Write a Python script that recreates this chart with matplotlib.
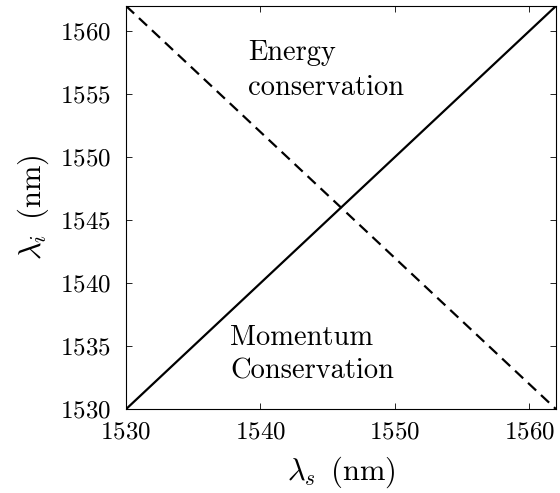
import matplotlib
matplotlib.use("Agg")
from matplotlib import pyplot as plt

# signal / idler wavelengths (nm)
lambda_s = [1530, 1546, 1562]
momentum_i = [1530, 1546, 1562]
energy_i = [1562, 1546, 1530]

x_ticks = [1530, 1540, 1550, 1560]
y_ticks = [1530, 1535, 1540, 1545, 1550, 1555, 1560]

plt.rcParams['font.family'] = 'serif'
plt.rcParams['font.serif'] = ['cmr10']
plt.rcParams['mathtext.fontset'] = 'cm'
plt.rcParams['axes.formatter.use_mathtext'] = True

fig = plt.figure(figsize=(5.6, 4.93), dpi=100)
ax = fig.add_axes([0.225, 0.170, 0.768, 0.818])

ax.plot(lambda_s, momentum_i, color='black', lw=1.6)
ax.plot(lambda_s, energy_i, color='black', lw=1.6, dashes=(5, 3))

ax.set_xlim(1530, 1562)
ax.set_ylim(1530, 1562)
ax.set_xticks(x_ticks)
ax.set_yticks(y_ticks)
ax.tick_params(direction='in', top=True, right=True, labelsize=18, length=4, width=0.6)
ax.tick_params(axis='x', pad=9)
ax.tick_params(axis='y', pad=11)
for s in ax.spines.values():
    s.set_linewidth(0.8)

ax.set_xlabel(r'$\lambda_s\ \,$(nm)', fontsize=22, labelpad=8)
ax.set_ylabel(r'$\lambda_i\ \,$(nm)', fontsize=22, labelpad=6)

ax.text(1539.1, 1557.7, 'Energy', fontsize=20.5, va='baseline', ha='left')
ax.text(1539.1, 1554.9, 'conservation', fontsize=20.5, va='baseline', ha='left')
ax.text(1537.75, 1535.1, 'Momentum', fontsize=20.5, va='baseline', ha='left')
ax.text(1537.75, 1532.45, 'Conservation', fontsize=20.5, va='baseline', ha='left')

fig.savefig('out.png', dpi=100)
